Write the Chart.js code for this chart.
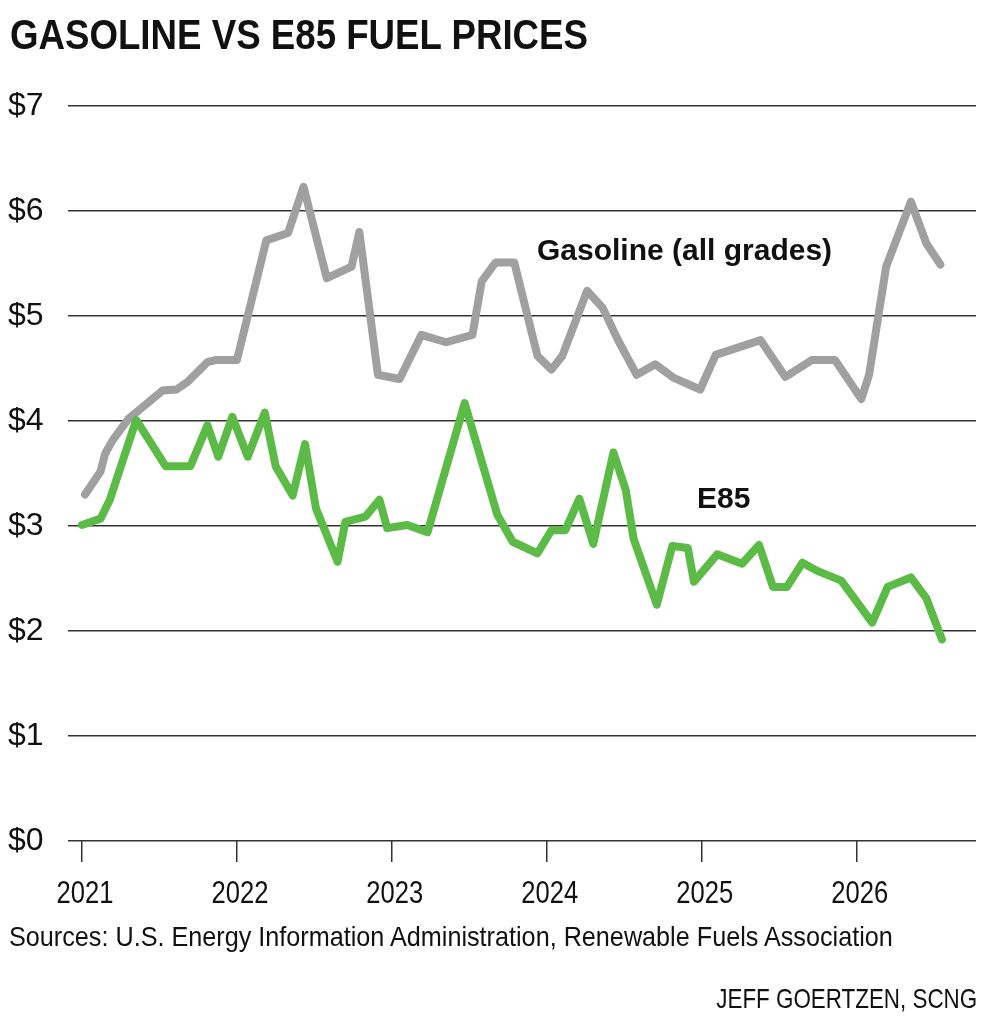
<!DOCTYPE html>
<html lang="en">
<head>
    <meta charset="UTF-8">
    <title>Gasoline vs E85 Fuel Prices</title>
    <script src="https://cdn.jsdelivr.net/npm/chart.js"></script>
    <style>
        html, body { margin: 0; padding: 0; background: #fff; }
        body { width: 988px; height: 1024px; position: relative; overflow: hidden; }
        .txt { position: absolute; white-space: nowrap; line-height: 1; color: #111; font-family: "Liberation Sans", Arial, sans-serif; }
        .bold { font-weight: bold; }
        /* no condensed face installed, so squeeze the regular one */
        #title { left: 10px; top: 14px; font-size: 42px; font-weight: bold; transform: scaleX(0.873); transform-origin: left top; }
        #source { left: 9px; top: 923px; font-size: 28px; transform: scaleX(0.9); transform-origin: left top; }
        #credit { right: 11px; top: 985px; font-size: 28px; transform: scaleX(0.8); transform-origin: right top; }
        #gasLabel { left: 537px; top: 235px; font-size: 30px; }
        #e85Label { left: 697px; top: 483px; font-size: 30px; }
        #wrap { position: absolute; left: 0; top: 0; width: 988px; height: 1024px; }
    </style>
</head>
<body>
    <div id="wrap"><canvas id="fuelChart"></canvas></div>

    <div id="title" class="txt">GASOLINE VS E85 FUEL PRICES</div>
    <div id="gasLabel" class="txt bold">Gasoline (all grades)</div>
    <div id="e85Label" class="txt bold">E85</div>
    <div id="source" class="txt">Sources: U.S. Energy Information Administration, Renewable Fuels Association</div>
    <div id="credit" class="txt">JEFF GOERTZEN, SCNG</div>

    <script>
        // dates as fractional years, prices in dollars per gallon
        const gasDates = [2021.02, 2021.12, 2021.15, 2021.20, 2021.30, 2021.52, 2021.61, 2021.68, 2021.81, 2021.86,
            2022.00, 2022.19, 2022.33, 2022.43, 2022.58, 2022.74, 2022.79, 2022.91, 2023.05, 2023.19,
            2023.35, 2023.52, 2023.58, 2023.67, 2023.79, 2023.94, 2024.03, 2024.10, 2024.26, 2024.36,
            2024.46, 2024.58, 2024.70, 2024.82, 2024.99, 2025.09, 2025.38, 2025.54, 2025.71, 2025.86,
            2026.03, 2026.08, 2026.19, 2026.35, 2026.45, 2026.54];
        const gasPrices = [3.30, 3.52, 3.69, 3.82, 4.02, 4.29, 4.30, 4.37, 4.56, 4.58,
            4.58, 5.72, 5.79, 6.23, 5.36, 5.47, 5.80, 4.44, 4.40, 4.82,
            4.75, 4.82, 5.33, 5.51, 5.51, 4.62, 4.49, 4.62, 5.24, 5.08,
            4.77, 4.44, 4.54, 4.41, 4.30, 4.63, 4.77, 4.42, 4.58, 4.58,
            4.21, 4.44, 5.47, 6.09, 5.69, 5.49];

        const e85Dates = [2021.00, 2021.12, 2021.18, 2021.35, 2021.54, 2021.70, 2021.81, 2021.88, 2021.97, 2022.07,
            2022.18, 2022.25, 2022.36, 2022.44, 2022.51, 2022.65, 2022.70, 2022.83, 2022.92, 2022.97,
            2023.10, 2023.23, 2023.47, 2023.68, 2023.78, 2023.94, 2024.03, 2024.12, 2024.21, 2024.30,
            2024.43, 2024.51, 2024.56, 2024.71, 2024.81, 2024.91, 2024.95, 2025.10, 2025.26, 2025.37,
            2025.46, 2025.55, 2025.65, 2025.75, 2025.90, 2026.10, 2026.20, 2026.35, 2026.45, 2026.55];
        const e85Prices = [3.01, 3.07, 3.25, 4.01, 3.57, 3.57, 3.96, 3.66, 4.04, 3.66,
            4.08, 3.57, 3.29, 3.78, 3.17, 2.66, 3.04, 3.09, 3.25, 2.98,
            3.01, 2.94, 4.17, 3.11, 2.85, 2.74, 2.96, 2.96, 3.26, 2.83,
            3.70, 3.34, 2.88, 2.25, 2.81, 2.79, 2.47, 2.73, 2.64, 2.82,
            2.42, 2.42, 2.65, 2.57, 2.48, 2.08, 2.42, 2.51, 2.31, 1.92];

        const yearTicks = [2021, 2022, 2023, 2024, 2025, 2026];
        const priceTicks = [0, 1, 2, 3, 4, 5, 6, 7];

        const fontFamily = "'Liberation Sans', Arial, sans-serif";

        // year labels drawn squeezed, like a condensed face
        const narrowYears = {
            id: "narrowYears",
            afterDraw(chart) {
                const sx = chart.scales.x;
                const c = chart.ctx;
                c.save();
                c.font = "32px " + fontFamily;
                c.fillStyle = "#111";
                c.textAlign = "center";
                c.textBaseline = "alphabetic";
                yearTicks.forEach(yr => {
                    c.save();
                    c.translate(sx.getPixelForValue(yr) + 3, sx.top + 62);
                    c.scale(0.8, 1);
                    c.fillText(String(yr), 0, 0);
                    c.restore();
                });
                c.restore();
            }
        };

        const ctx = document.getElementById("fuelChart").getContext("2d");
        const fuelChart = new Chart(ctx, {
            type: "line",
            data: {
                datasets: [
                    {
                        label: "E85",
                        data: e85Dates.map((d, i) => ({ x: d, y: e85Prices[i] })),
                        borderColor: "#5cbb46",
                        borderWidth: 8,
                        borderJoinStyle: "round",
                        borderCapStyle: "round",
                        pointRadius: 0,
                        tension: 0,
                        order: 0
                    },
                    {
                        label: "Gasoline (all grades)",
                        data: gasDates.map((d, i) => ({ x: d, y: gasPrices[i] })),
                        borderColor: "#a0a0a0",
                        borderWidth: 8,
                        borderJoinStyle: "round",
                        borderCapStyle: "round",
                        pointRadius: 0,
                        tension: 0,
                        order: 1
                    }
                ]
            },
            options: {
                responsive: true,
                maintainAspectRatio: false,
                animation: false,
                clip: false,
                layout: { padding: { left: 8, right: 12, top: 106, bottom: 123 } },
                plugins: { legend: { display: false }, tooltip: { enabled: false } },
                scales: {
                    x: {
                        type: "linear",
                        min: 2020.91,
                        max: 2026.77,
                        afterBuildTicks: scale => { scale.ticks = yearTicks.map(v => ({ value: v })); },
                        afterFit: scale => { scale.height = 60; },
                        border: { display: false },
                        grid: { drawOnChartArea: false, drawTicks: true, tickLength: 21, color: "#333", lineWidth: 1.5 },
                        ticks: { display: false }
                    },
                    y: {
                        min: 0,
                        max: 7,
                        afterBuildTicks: scale => { scale.ticks = priceTicks.map(v => ({ value: v })); },
                        afterFit: scale => { scale.width = 60; },
                        border: { display: false },
                        grid: { drawTicks: false, color: "#333", lineWidth: 1.5 },
                        ticks: { color: "#111", font: { family: fontFamily, size: 32 }, crossAlign: "far", padding: 0, callback: v => "$" + v }
                    }
                }
            },
            plugins: [narrowYears]
        });
    </script>
</body>
</html>
